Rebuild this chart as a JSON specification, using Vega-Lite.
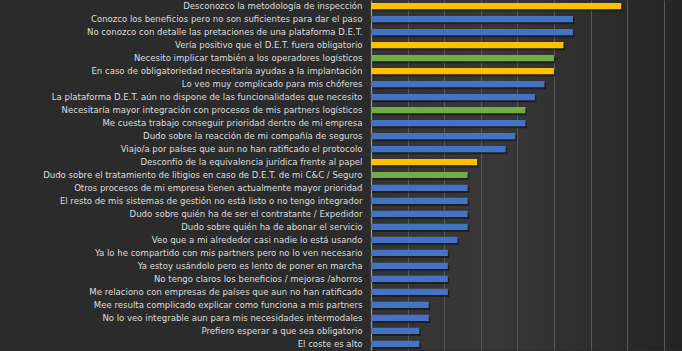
{
  "$schema": "https://vega.github.io/schema/vega-lite/v6.json",
  "width": 311,
  "height": 350,
  "autosize": {"type": "none"},
  "padding": {"left": 371, "top": 0, "right": 0, "bottom": 1},
  "background": "#2b2b2b",
  "config": {
    "view": {"stroke": null, "fill": {"gradient": "linear", "x1": 0, "x2": 1, "y1": 0, "y2": 0, "stops": [{"offset": 0, "color": "#333333"}, {"offset": 0.4, "color": "#383838"}, {"offset": 1, "color": "#242424"}]}},
    "font": "DejaVu Sans Condensed, sans-serif"
  },
  "data": {"values": [
    {"label": "Desconozco la metodología de inspección", "value": 34.2, "group": "y"},
    {"label": "Conozco los beneficios pero no son suficientes para dar el paso", "value": 27.6, "group": "b"},
    {"label": "No conozco con detalle las pretaciones de una plataforma D.E.T.", "value": 27.6, "group": "b"},
    {"label": "Vería positivo que el D.E.T. fuera obligatorio", "value": 26.3, "group": "y"},
    {"label": "Necesito implicar también a los operadores logísticos", "value": 25.0, "group": "g"},
    {"label": "En caso de obligatoriedad necesitaría ayudas a la implantación", "value": 25.0, "group": "y"},
    {"label": "Lo veo muy complicado para mis chóferes", "value": 23.7, "group": "b"},
    {"label": "La plataforma D.E.T. aún no dispone de las funcionalidades que necesito", "value": 22.4, "group": "b"},
    {"label": "Necesitaría mayor integración con procesos de mis partners logísticos", "value": 21.1, "group": "g"},
    {"label": "Me cuesta trabajo conseguir prioridad dentro de mi empresa", "value": 21.1, "group": "b"},
    {"label": "Dudo sobre la reacción de mi compañía de seguros", "value": 19.7, "group": "b"},
    {"label": "Viajo/a por países que aun no han ratificado el protocolo", "value": 18.4, "group": "b"},
    {"label": "Desconfío de la equivalencia jurídica frente al papel", "value": 14.5, "group": "y"},
    {"label": "Dudo sobre el tratamiento de litigios en caso de D.E.T. de mi C&C / Seguro", "value": 13.2, "group": "g"},
    {"label": "Otros procesos de mi empresa tienen actualmente mayor prioridad", "value": 13.2, "group": "b"},
    {"label": "El resto de mis sistemas de gestión no está listo o no tengo integrador", "value": 13.2, "group": "b"},
    {"label": "Dudo sobre quién ha de ser el contratante / Expedidor", "value": 13.2, "group": "b"},
    {"label": "Dudo sobre quién ha de abonar el servicio", "value": 13.2, "group": "b"},
    {"label": "Veo que a mi alrededor casi nadie lo está usando", "value": 11.8, "group": "b"},
    {"label": "Ya lo he compartido con mis partners  pero no lo ven necesario", "value": 10.5, "group": "b"},
    {"label": "Ya estoy usándolo pero es lento de poner en marcha", "value": 10.5, "group": "b"},
    {"label": "No tengo claros los beneficios / mejoras /ahorros", "value": 10.5, "group": "b"},
    {"label": "Me relaciono con empresas de países que aun no han ratificado", "value": 10.5, "group": "b"},
    {"label": "Mee resulta complicado explicar como funciona a mis partners", "value": 7.9, "group": "b"},
    {"label": "No lo veo integrable aun para mis necesidades intermodales", "value": 7.9, "group": "b"},
    {"label": "Prefiero esperar a que sea obligatorio", "value": 6.6, "group": "b"},
    {"label": "El coste es alto", "value": 6.6, "group": "b"}
  ]},
  "encoding": {
    "y": {"field": "label", "type": "nominal", "sort": null,
      "scale": {"paddingInner": 0.52, "paddingOuter": 0.24},
      "axis": {"title": null, "ticks": false, "domainColor": "#9a9a9a", "domainWidth": 1.2, "labelColor": "#dedede", "labelFontSize": 9.5, "labelPadding": 9, "labelLimit": 370, "grid": false}},
    "x": {"field": "value", "type": "quantitative",
      "scale": {"domain": [0, 42.5], "nice": false, "zero": true},
      "axis": {"title": null, "labels": false, "ticks": false, "domain": false, "values": [5, 10, 15, 20, 25, 30, 35, 40], "grid": true, "gridColor": "#585858", "gridWidth": 1}}
  },
  "layer": [
    {"mark": {"type": "bar", "color": "#111111", "opacity": 0.6, "xOffset": 1.5, "yOffset": 2}},
    {"mark": {"type": "bar"},
      "encoding": {"color": {"field": "group", "type": "nominal", "legend": null,
        "scale": {"domain": ["y", "b", "g"], "range": ["#FFC000", "#4472C4", "#70AD47"]}}}}
  ]
}
